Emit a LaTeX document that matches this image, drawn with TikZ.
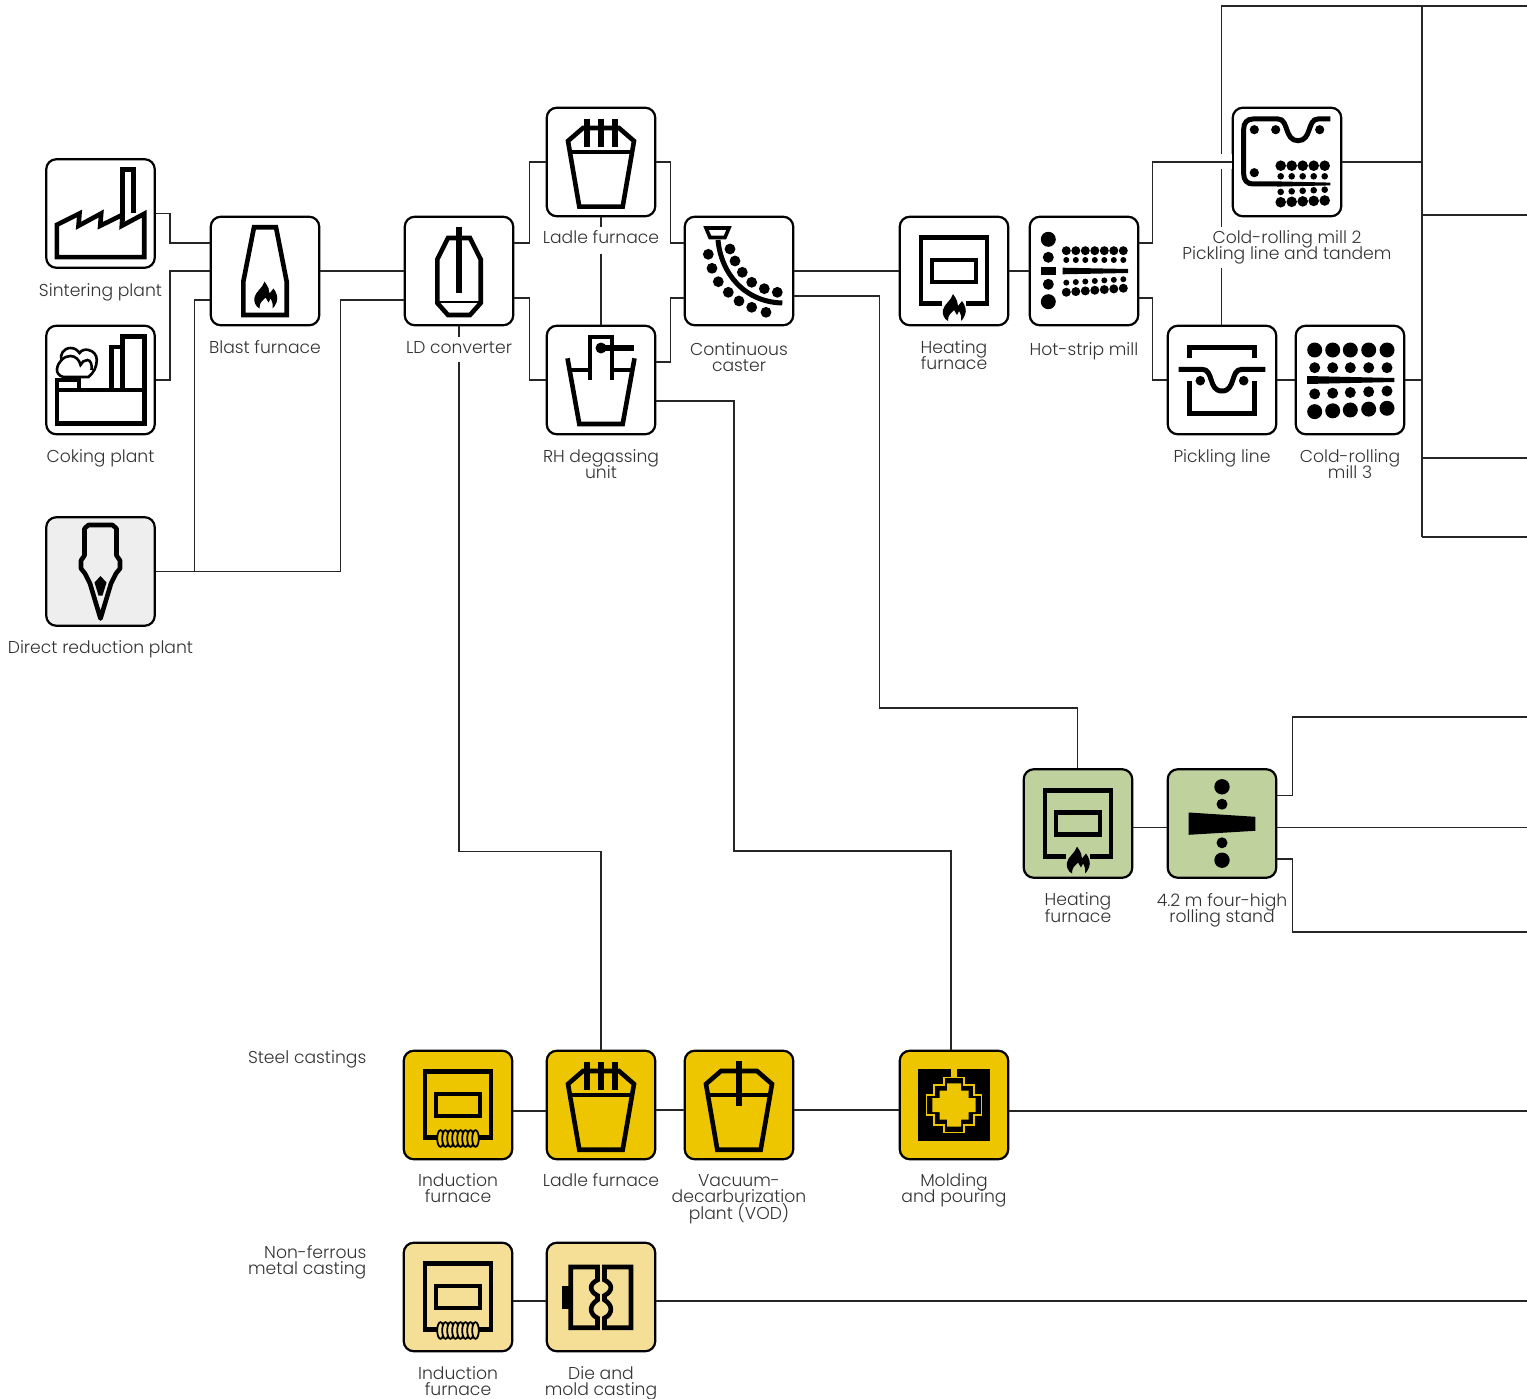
\documentclass[tikz,border=0pt]{standalone}
\usepackage{fontspec}
\setmainfont{Poppins}[UprightFont=* Light]
\usetikzlibrary{positioning}
\normallineskiplimit=-20pt
\lineskiplimit=-20pt
\definecolor{inkgray}{HTML}{333333}
\definecolor{steelyellow}{HTML}{EEC600}
\definecolor{paleyellow}{HTML}{F5DE96}
\definecolor{plategreen}{HTML}{BFD29E}
\definecolor{ironbg}{HTML}{EEEEEE}
\begin{document}
\begin{tikzpicture}[
x=1pt, y=-1pt,
unit/.style={draw=black, fill=#1, line width=2.2pt, rounded corners=10pt, minimum size=108.5pt, inner sep=0pt},
unit/.default=white,
link/.style={draw=black!85, line width=1.3pt},
tag/.style={font=\fontsize{17.2pt}{16.4pt}\selectfont, text=inkgray, align=center, inner sep=0pt},
cuttag/.style={tag, fill=white, inner ysep=4pt},
ink/.style={line width=4.6pt, draw=black},
% --- Biểu tượng ---
factory/.pic={
  \draw[ink] (-43.7,11.3) -- (-21,0) -- (-22,12.3) -- (0.7,0) -- (-0.3,12.3) -- (22,1.3) -- (21.3,12.3) -- (43.7,0.3) -- (43.7,43.7) -- (-43.7,43.7) -- cycle;
  \draw[ink] (21.7,8) -- (21.7,-43.7) -- (33,-43.7) -- (33,0);
},
coke/.pic={
  \draw[ink] (-43.7,10) rectangle (43.7,43.5);
  \draw[ink] (-43.7,10) -- (-43.7,0) -- (-21.7,0) -- (-21.7,10);
  \draw[ink] (11,10) -- (11,-33) -- (21.7,-33);
  \draw[ink] (21.7,10) -- (21.7,-43.7) -- (43.7,-43.7) -- (43.7,10);
  \draw[line width=2.6pt, fill=white] (-37,-3) .. controls (-42,-4) and (-44,-8) .. (-43.5,-11) .. controls (-43,-15) and (-41,-18) .. (-39,-20) .. controls (-41,-25) and (-37,-32) .. (-30,-32) .. controls (-26,-32) and (-23,-30) .. (-21,-27) .. controls (-19,-30) and (-15,-31) .. (-12,-30) .. controls (-7,-29) and (-3.7,-25) .. (-3.7,-20) .. controls (-3.7,-13) and (-7,-7) .. (-12,-3) -- cycle;
  \draw[line width=2.6pt] (-39,-20) .. controls (-36,-23) and (-33,-24) .. (-30,-24) .. controls (-25,-24) and (-21,-20) .. (-20,-15) .. controls (-19,-18) and (-16,-20) .. (-13,-20) .. controls (-10,-20) and (-8,-15) .. (-9,-10);
},
direct/.pic={
  \draw[ink, line join=round] (-16,-35) -- (-16,-43) -- (-12,-46.5) -- (12,-46.5) -- (16,-43) -- (16,-16) -- (19.5,-11) -- (19.5,-3) -- (15.5,2) -- (10.5,12) -- (0,47) -- (-10.5,12) -- (-15.5,2) -- (-19.5,-3) -- (-19.5,-11) -- (-16,-16) -- cycle;
  \fill (0,4.5) -- (6,11) -- (2,24) -- (-2,24) -- (-6,11) -- cycle;
},
flame/.pic={
  \fill (-1,-14) .. controls (3,-8) and (4,-6) .. (4,-2) -- (8,-7) .. controls (11,-3) and (13,2) .. (11,7) .. controls (10,10) and (8,12) .. (7,13) .. controls (8,8) and (6,5) .. (5,3) -- (3,7) -- (0,2) -- (-3,5) .. controls (-6,8) and (-6,11) .. (-6,13) .. controls (-10,11) and (-12,6) .. (-11,2) .. controls (-10,-4) and (-3,-7) .. (-1,-14) -- cycle;
},
blast/.pic={
  \draw[ink] (-11,-43.7) -- (11,-43.7) -- (21.7,10.7) -- (21.7,44) -- (-21.7,44) -- (-21.7,10.7) -- cycle;
  \pic at (0.5,24.5) {flame};
},
converter/.pic={
  \draw[ink] (-11,-33) -- (11,-33) -- (21.7,-11.7) -- (21.7,32) -- (11,44) -- (-11,44) -- (-21.7,32) -- (-21.7,-11.7) -- cycle;
  \draw[line width=2.6pt] (-21.7,31) -- (21.7,31);
  \draw[line width=6pt] (0,-44) -- (0,21.7);
},
ladleshell/.pic={
  \draw[ink] (-18,-34) -- (18,-34) -- (33,-21) -- (21.7,44.7) -- (-21.7,44.7) -- (-33,-21) -- cycle;
  \draw[line width=3.4pt] (-31,-10) -- (31,-10);
},
threerods/.pic={
  \foreach \rodx in {-14,0,14} \draw[line width=6pt] (\rodx,-43) -- (\rodx,-14.7);
},
onerod/.pic={
  \draw[line width=6pt] (0,-44) -- (0,0.7);
},
degasser/.pic={
  \draw[ink] (-33.5,-21.7) -- (-21.7,44) -- (21.7,44) -- (33.5,-21.7);
  \draw[ink] (-11,0) -- (-11,-43) -- (11,-43) -- (11,0);
  \draw[line width=3.4pt] (-31,-10) -- (-11,-10) (11,-10) -- (31,-10);
  \fill (0,-32) circle[radius=5.5pt];
  \draw[line width=6pt] (0,-32) -- (33,-32);
},
caster/.pic={
  \draw[line width=3.6pt] (-33,-43) -- (-10,-43) -- (-14,-33.5) -- (-29,-33.5) -- cycle;
  \draw[line width=5pt] (-21,-31) .. controls (-18,2) and (5,31) .. (43.3,32);
  \foreach \rollx/\rolly in {-9/-22,-4/-10,3.3/1.3,12.7/11.3,25.3/17.7,38.3/21.3,-30.7/-16.7,-27/-2.7,-20.7/10.7,-10.7/21.3,0/30,12.7/36.3,27/41.3}
    \fill (\rollx,\rolly) circle[radius=5.4pt];
},
furnbox/.pic={
  \draw[ink] (-12,32.7) -- (-33,32.7) -- (-33,-33.3) -- (33,-33.3) -- (33,32.7) -- (12,32.7);
  \draw[ink] (-22,-11) rectangle (22,11);
},
coil/.pic={
  \draw[ink] (-14,33.5) -- (14,33.5);
  \foreach \loopx in {-17.5,-12.5,...,17.5}
    \draw[line width=1.8pt, fill=#1] (\loopx,33.5) ellipse[x radius=3.3pt, y radius=8.3pt];
},
hotmill/.pic={
  \fill (-35.7,-31.7) circle[radius=7.5pt] (-35.7,-13.7) circle[radius=5.5pt] (-35.7,13.3) circle[radius=5.5pt] (-35.7,30.7) circle[radius=7.5pt];
  \fill (-43.3,-4) rectangle (-27.7,4);
  \fill (-21.3,-3.3) -- (44,-2) -- (44,2) -- (-21.3,3.3) -- cycle;
  \foreach \rollx in {-17.7,-8.2,1.3,10.8,20.3,29.8,39.3} {
    \fill (\rollx,-20.3) circle[radius=4.5pt] (\rollx,-11) circle[radius=3pt] (\rollx,{10.6-0.06*\rollx}) circle[radius=3pt] (\rollx,{20-0.07*\rollx}) circle[radius=4.5pt];
  }
},
colda/.pic={
  \draw[line width=5pt] (43.3,-43) -- (31,-43) .. controls (20,-43) and (25,-21.3) .. (11,-21.3) .. controls (-3,-21.3) and (2,-43) .. (-9,-43) -- (-34,-43) .. controls (-40,-43) and (-43.3,-39) .. (-43.3,-33) -- (-43.3,12) .. controls (-43.3,18) and (-40,22) .. (-34,22) -- (-10,22);
  \fill (-10,19.4) -- (43.3,20.6) -- (43.3,23.4) -- (-10,24.6) -- cycle;
  \fill (-32.7,-32.3) circle[radius=4.6pt] (-11.3,-32.3) circle[radius=4.6pt] (32.7,-32.3) circle[radius=4.6pt] (-32.7,10.7) circle[radius=4.6pt];
  \foreach \rollx in {-6.3,4.7,15.7,26.7,37.7} {
    \fill (\rollx,3.7) circle[radius=5.3pt] (\rollx,14.3) circle[radius=3.3pt] (\rollx,{29.6-0.05*\rollx}) circle[radius=3.3pt] (\rollx,{40-0.04*\rollx}) circle[radius=5.3pt];
  }
},
pickler/.pic={
  \draw[ink] (-32.7,-21.7) -- (-32.7,-32.7) -- (32.7,-32.7) -- (32.7,-21.7);
  \draw[ink] (-32.7,1) -- (-32.7,33.3) -- (32.7,33.3) -- (32.7,1);
  \draw[line width=5pt] (-43.3,-10.7) -- (-20,-10.7) .. controls (-8,-10.7) and (-14,11) .. (0,11) .. controls (14,11) and (8,-10.7) .. (20,-10.7) -- (43.3,-10.7);
  \fill (-21.7,0.7) circle[radius=4.8pt] (21.7,0.7) circle[radius=4.8pt];
},
coldb/.pic={
  \fill (-43,-4) -- (44.3,-2) -- (44.3,2) -- (-43,4) -- cycle;
  \foreach \rollx in {-35.3,-17.3,0.3,18.7,37} {
    \fill (\rollx,-30) circle[radius=7.5pt] (\rollx,-12.3) circle[radius=5.5pt] (\rollx,{12.5-0.04*\rollx}) circle[radius=5.5pt] (\rollx,{30-0.047*\rollx}) circle[radius=7.5pt];
  }
},
stand/.pic={
  \fill (0,-36.7) circle[radius=7.7pt] (0,-19.3) circle[radius=5.5pt] (0,19.3) circle[radius=5.5pt] (0,36.7) circle[radius=7.7pt];
  \fill (-33.3,-11) -- (33.3,-6.7) -- (33.3,7.3) -- (-33.3,11.3) -- cycle;
},
mold/.pic={
  \fill (-36,-36) rectangle (36,36);
  \fill[steelyellow] (-3,-36) rectangle (3,-26);
  \draw[steelyellow, line width=1.6pt, fill=black] (-10,-27.5) -- (10,-27.5) -- (10,-20) -- (20,-20) -- (20,-10) -- (27.5,-10) -- (27.5,10) -- (20,10) -- (20,20) -- (10,20) -- (10,27.5) -- (-10,27.5) -- (-10,20) -- (-20,20) -- (-20,10) -- (-27.5,10) -- (-27.5,-10) -- (-20,-10) -- (-20,-20) -- (-10,-20) -- cycle;
  \fill[steelyellow] (-7,-21.7) -- (7,-21.7) -- (7,-14.5) -- (14.5,-14.5) -- (14.5,-7) -- (21.7,-7) -- (21.7,7) -- (14.5,7) -- (14.5,14.5) -- (7,14.5) -- (7,21.7) -- (-7,21.7) -- (-7,14.5) -- (-14.5,14.5) -- (-14.5,7) -- (-21.7,7) -- (-21.7,-7) -- (-14.5,-7) -- (-14.5,-14.5) -- (-7,-14.5) -- cycle;
},
diecast/.pic={
  \draw[ink] (-3.5,-30) -- (-30.3,-30) -- (-30.3,30.7) -- (-3.5,30.7) -- (-3.5,21) .. controls (-12,17) and (-12,8) .. (-3.5,3) -- (-3.5,-1.5) .. controls (-12,-6) and (-12,-13) .. (-3.5,-17) -- cycle;
  \draw[ink] (3.5,-30) -- (30,-30) -- (30,30.7) -- (3.5,30.7) -- (3.5,21) .. controls (12,17) and (12,8) .. (3.5,3) -- (3.5,-1.5) .. controls (12,-6) and (12,-13) .. (3.5,-17) -- cycle;
  \fill (-39,-11) rectangle (-31,11.5);
}
]
\useasboundingbox (0,0) rectangle (1527,1399);

% --- Khối thiết bị ---
\node[unit] (sinter) at (100.5,213.5) {};
\node[unit] (coking) at (100.5,380) {};
\node[unit=ironbg] (direct) at (100.5,571.5) {};
\node[unit] (blast) at (265,271) {};
\node[unit] (ld) at (459,271) {};
\node[unit] (ladle) at (601,162) {};
\node[unit] (rh) at (601,380) {};
\node[unit] (caster) at (739,271) {};
\node[unit] (heat) at (954,271) {};
\node[unit] (hot) at (1084,271) {};
\node[unit] (coldtwo) at (1287,162) {};
\node[unit] (pick) at (1222,380) {};
\node[unit] (coldthree) at (1350,380) {};
\node[unit=plategreen] (plateheat) at (1078,823.5) {};
\node[unit=plategreen] (stand) at (1222,823.5) {};
\node[unit=steelyellow] (indsteel) at (458,1105) {};
\node[unit=steelyellow] (ladlesteel) at (601,1105) {};
\node[unit=steelyellow] (vod) at (739,1105) {};
\node[unit=steelyellow] (mold) at (954,1105) {};
\node[unit=paleyellow] (indmetal) at (458,1297) {};
\node[unit=paleyellow] (die) at (601,1297) {};

% --- Điểm cuối bên phải ---
\coordinate (topend) at (1527,6);
\coordinate (busn) at (1422,6);
\coordinate (buss) at (1422,537);
\coordinate (endb) at (1527,215);
\coordinate (endc) at (1527,458);
\coordinate (endd) at (1527,537);
\coordinate (ende) at (1527,717);
\coordinate (endf) at (1527,827.5);
\coordinate (endg) at (1527,932);
\coordinate (endh) at (1527,1111);
\coordinate (endi) at (1527,1301);

% --- Đường nối ---
\draw[link] (sinter.east) -- ++(14,0) |- ([yshift=28pt]blast.west);
\draw[link] (coking.east) -- ++(14,0) |- (blast.west);
\draw[link] (direct.east) -- ++(38.5,0) |- ([yshift=-29pt]blast.west);
\draw[link] (direct.east) -- ++(184.5,0) |- ([yshift=-29pt]ld.west);
\draw[link] (blast.east) -- (ld.west);
\draw[link] ([yshift=28pt]ld.east) -- ++(15,0) |- (ladle.west);
\draw[link] ([yshift=-27pt]ld.east) -- ++(15,0) |- (rh.west);
\draw[link] (ld.south) -- ++(0,525) -| (ladlesteel.north);
\draw[link] (ladle.south) -- (rh.north);
\draw[link] (ladle.east) -- ++(14,0) |- ([yshift=28pt]caster.west);
\draw[link] ([yshift=18pt]rh.east) -- ++(14,0) |- ([yshift=-27pt]caster.west);
\draw[link] ([yshift=-21pt]rh.east) -- ++(77.5,0) -- ++(0,450) -| ([xshift=-3pt]mold.north);
\draw[link] (caster.east) -- (heat.west);
\draw[link] ([yshift=-25pt]caster.east) -- ++(85,0) -- ++(0,412) -| ([xshift=-0.7pt]plateheat.north);
\draw[link] (heat.east) -- (hot.west);
\draw[link] ([xshift=-0.7pt]pick.north) |- (topend);
\draw[white, line width=15pt] ([xshift=-15pt]coldtwo.west) -- (coldtwo.west);
\draw[link] ([yshift=28pt]hot.east) -- ++(13,0) |- (coldtwo.west);
\draw[link] ([yshift=-27pt]hot.east) -- ++(13,0) |- (pick.west);
\draw[link] (pick.east) -- (coldthree.west);
\draw[link] (busn) -- (buss);
\draw[link] (coldtwo.east) -- (coldtwo.east -| busn);
\draw[link] (coldthree.east) -- (coldthree.east -| busn);
\draw[link] (endb -| busn) -- (endb);
\draw[link] (endc -| busn) -- (endc);
\draw[link] (endd -| busn) -- (endd);
\draw[link] ([yshift=-4pt]plateheat.east) -- ([yshift=-4pt]stand.west);
\draw[link] ([yshift=28pt]stand.east) -- ++(15,0) |- (ende);
\draw[link] ([yshift=-4pt]stand.east) -- (endf);
\draw[link] ([yshift=-35.5pt]stand.east) -- ++(15,0) |- (endg);
\draw[link] ([yshift=-6pt]indsteel.east) -- ([yshift=-6pt]ladlesteel.west);
\draw[link] ([yshift=-5pt]ladlesteel.east) -- ([yshift=-5pt]vod.west);
\draw[link] ([yshift=-5pt]vod.east) -- ([yshift=-5pt]mold.west);
\draw[link] ([yshift=-6pt]mold.east) -- (endh);
\draw[link] ([yshift=-4pt]indmetal.east) -- ([yshift=-4pt]die.west);
\draw[link] ([yshift=-4pt]die.east) -- (endi);

% --- Biểu tượng trong khối ---
\pic at (sinter) {factory};
\pic at (coking) {coke};
\pic at (direct) {direct};
\pic at (blast) {blast};
\pic at (ld) {converter};
\pic at (ladle) {ladleshell};
\pic at (ladle) {threerods};
\pic at (rh) {degasser};
\pic at (caster) {caster};
\pic at (heat) {furnbox};
\pic at ([yshift=-37pt]heat.center) {flame};
\pic at (hot) {hotmill};
\pic at (coldtwo) {colda};
\pic at (pick) {pickler};
\pic at (coldthree) {coldb};
\pic at (plateheat) {furnbox};
\pic at ([yshift=-37pt]plateheat.center) {flame};
\pic at (stand) {stand};
\pic at (indsteel) {furnbox};
\pic at (indsteel) {coil=steelyellow};
\pic at (ladlesteel) {ladleshell};
\pic at (ladlesteel) {threerods};
\pic at (vod) {ladleshell};
\pic at (vod) {onerod};
\pic at (mold) {mold};
\pic at (indmetal) {furnbox};
\pic at (indmetal) {coil=paleyellow};
\pic at (die) {diecast};

% --- Nhãn ---
\node[tag, below=14.5pt of sinter] (sintertag) {Sintering plant};
\node[tag, below=14pt of coking] (cokingtag) {Coking plant};
\node[tag, below=14pt of direct] (directtag) {Direct reduction plant};
\node[tag, below=14pt of blast] (blasttag) {Blast furnace};
\node[cuttag, text depth=5pt, below=10.5pt of ld] (ldtag) {LD converter};
\node[cuttag, text depth=6pt, below=9pt of ladle] (ladletag) {Ladle furnace};
\node[tag, below=14pt of rh] (rhtag) {RH degassing\\unit};
\node[tag, below=16pt of caster] (castertag) {Continuous\\caster};
\node[tag, below=14pt of heat] (heattag) {Heating\\furnace};
\node[tag, below=16pt of hot] (hottag) {Hot-strip mill};
\node[cuttag, below=9pt of coldtwo] (coldtwotag) {Cold-rolling mill 2\\Pickling line and tandem};
\node[tag, below=14pt of pick] (picktag) {Pickling line};
\node[tag, below=14pt of coldthree] (coldthreetag) {Cold-rolling\\mill 3};
\node[tag, below=14pt of plateheat] (plateheattag) {Heating\\furnace};
\node[tag, below=14pt of stand] (standtag) {4.2 m four-high\\rolling stand};
\node[tag, below=13pt of indsteel] (indsteeltag) {Induction\\furnace};
\node[tag, below=13pt of ladlesteel] (ladlesteeltag) {Ladle furnace};
\node[tag, below=14pt of vod] (vodtag) {Vacuum-\\decarburization\\plant (VOD)};
\node[tag, below=13pt of mold] (moldtag) {Molding\\and pouring};
\node[tag, below=14pt of indmetal] (indmetaltag) {Induction\\furnace};
\node[tag, below=14pt of die] (dietag) {Die and\\mold casting};
\node[tag, anchor=east] (steeltag) at (366.5,1059) {Steel castings};
\node[tag, anchor=east, align=right] (metaltag) at (366.5,1262) {Non-ferrous\\metal casting};
\end{tikzpicture}
\end{document}
